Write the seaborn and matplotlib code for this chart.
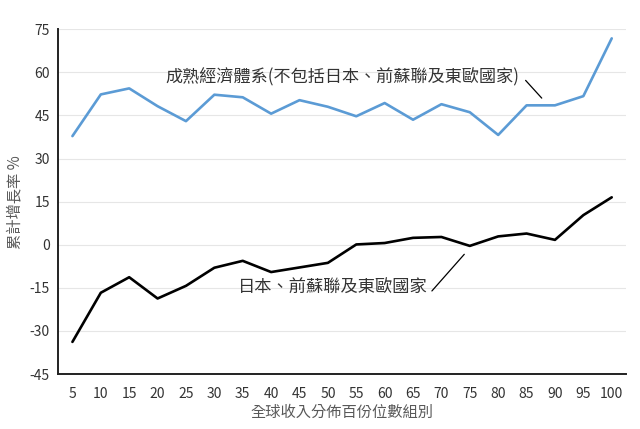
import matplotlib
matplotlib.use("Agg")
import matplotlib.pyplot as plt
import seaborn as sns
import pandas as pd

percentiles = ["5", "10", "15", "20", "25", "30", "35", "40", "45", "50",
               "55", "60", "65", "70", "75", "80", "85", "90", "95", "100"]
mature = [37.8, 52.3, 54.4, 48.2, 43.0, 52.2, 51.3, 45.6, 50.3, 48.0,
          44.7, 49.3, 43.5, 48.9, 46.1, 38.2, 48.5, 48.5, 51.7, 71.8]
japan_ex_soviet = [-33.8, -16.7, -11.3, -18.7, -14.3, -8.0, -5.6, -9.5, -7.9, -6.3,
                   0.1, 0.6, 2.4, 2.7, -0.4, 2.9, 3.9, 1.7, 10.3, 16.5]
series_names = ["成熟經濟體系(不包括日本、前蘇聯及東歐國家)", "日本、前蘇聯及東歐國家"]
y_ticks = [-45, -30, -15, 0, 15, 30, 45, 60, 75]
x_title = "全球收入分佈百份位數組別"
y_title = "累計增長率 %"

df = pd.concat([
    pd.DataFrame({"pct": percentiles, "val": mature, "series": series_names[0]}),
    pd.DataFrame({"pct": percentiles, "val": japan_ex_soviet, "series": series_names[1]}),
])

sns.set_theme(style="white")
plt.rcParams["font.family"] = ["Noto Sans CJK TC", "DejaVu Sans"]

fig = plt.figure(figsize=(6.4, 4.29), dpi=100)
ax = fig.add_axes([0.091, 0.128, 0.887, 0.804])

sns.lineplot(data=df, x="pct", y="val", hue="series",
             palette={series_names[0]: "#5B9BD5", series_names[1]: "#000000"},
             linewidth=1.9, ax=ax, legend=False, sort=False)

ax.set_xlim(-0.5, len(percentiles) - 0.5)
ax.set_ylim(-45, 75)
ax.set_yticks(y_ticks)
ax.set_yticklabels([str(v) for v in y_ticks])
ax.yaxis.grid(True, color="#e6e6e6", linewidth=0.8)
ax.xaxis.grid(False)
ax.set_axisbelow(True)
for s in ["top", "right"]:
    ax.spines[s].set_visible(False)
for s in ["left", "bottom"]:
    ax.spines[s].set_color("#222222")
    ax.spines[s].set_linewidth(1.4)
ax.tick_params(axis="both", length=0, labelsize=10, colors="#333333", pad=6)
ax.tick_params(axis="x", pad=9)

ax.set_xlabel(x_title, fontsize=11, color="#595959", labelpad=2, fontweight="light")
ax.set_ylabel(y_title, fontsize=11, color="#595959", labelpad=4, fontweight="light")

# annotations
ax.text(15.74, 58.3, series_names[0], ha="right", va="center",
        fontsize=12.3, color="#333333", fontweight="light")
ax.annotate("", xy=(16.6, 50.3), xytext=(15.9, 57.9),
            arrowprops=dict(arrowstyle="-", color="#000000", lw=0.9))
ax.text(12.5, -15.1, series_names[1], ha="right", va="center",
        fontsize=12.4, color="#333333", fontweight="light")
ax.annotate("", xy=(13.87, -2.6), xytext=(12.6, -16.8),
            arrowprops=dict(arrowstyle="-", color="#000000", lw=0.9))

fig.savefig("out.png", dpi=100)
